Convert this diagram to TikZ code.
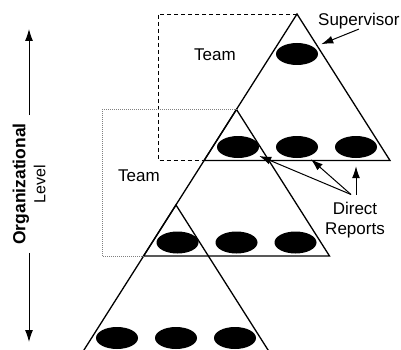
\documentclass[tikz,border=0pt]{standalone}
\usepackage{fontspec}
\setmainfont{Liberation Sans}
\usetikzlibrary{shapes.geometric,arrows.meta}

\begin{document}
\begin{tikzpicture}[x=1pt,y=-1pt,
  lbl/.style={font=\fontsize{17}{20}\selectfont,inner sep=0pt},
  member/.style={ellipse,fill=black,inner sep=0pt,minimum width=42pt,minimum height=22pt},
  tri/.style={line width=1.3pt,line join=miter},
  arr/.style={line width=1pt,-{Latex[length=12pt,width=8pt]}}]
  \useasboundingbox (0,0) rectangle (401,350);
  % levels: triangle + row of reports
  \foreach \n/\ax/\ay in {1/297/14,2/236.5/109.5,3/176/205} {
    \draw[tri] (\ax,\ay) coordinate (apex\n) -- ++(93,146.5) -- ++(-186,0) coordinate (bl\n) -- cycle;
    \foreach \c/\dx in {1/-59,2/0,3/59}
      \node[member] (m\n\c) at (\ax+\dx,\ay+133) {};
  }
  \node[member] (boss) at (297,54) {};
  % team outlines
  \draw[line width=.9pt,dash pattern=on 4pt off 3pt] (apex1) -- ++(-139,0) |- (bl1);
  \draw[gray,line width=.7pt,dash pattern=on .8pt off 1.2pt] (apex2) -- ++(-134.5,0) |- (bl2);
  \node[lbl] (team1) at (215,55) {Team};
  \node[lbl] (team2) at (139,176) {Team};
  \node[lbl,anchor=west] (supervisor) at (318,21) {Supervisor};
  \node[lbl,align=center,anchor=north] (reports) at (355,201.5) {Direct\\Reports};
  \node[lbl,font=\fontsize{16}{20}\selectfont,align=center,rotate=90,inner sep=8pt] (level) at (29,184)
    {{\fontsize{17.5}{20}\selectfont\bfseries Organizational}\\Level};
  \coordinate (up) at (29,29);
  \coordinate (down) at (29,342);
  \draw[arr] (level.east) -- (up);
  \draw[arr] (level.west) -- (down);
  \draw[arr,shorten >=8pt] (supervisor.south) -- (boss);
  \draw[arr,shorten >=5pt] ([xshift=-4pt,yshift=7pt]reports.north) -- (m11);
  \draw[arr,shorten >=4pt] ([xshift=-4pt,yshift=7pt]reports.north) -- (m12);
  \draw[arr,shorten >=8pt] ([xshift=1pt,yshift=7pt]reports.north) -- (m13);
\end{tikzpicture}
\end{document}
